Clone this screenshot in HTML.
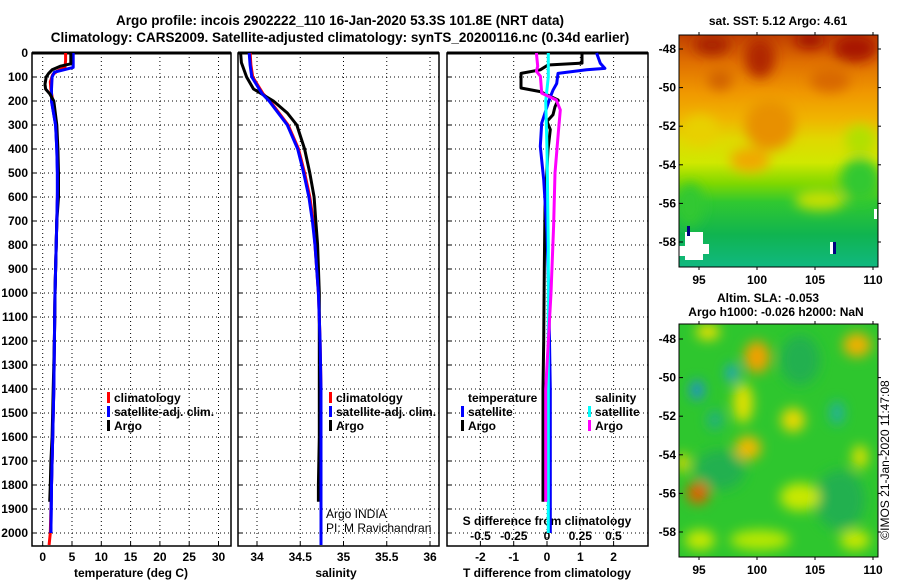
<!DOCTYPE html>
<html><head><meta charset="utf-8"><style>
body{margin:0;background:#fff;width:900px;height:580px;overflow:hidden}
svg{display:block;font-family:"Liberation Sans",Arial,sans-serif}
.b{font-weight:bold;font-size:12px}
.t{font-weight:bold;font-size:13.5px}
</style></head><body>
<svg id="c" width="900" height="580" viewBox="0 0 900 580" xmlns="http://www.w3.org/2000/svg">
<defs>
<filter id="bl" x="-50%" y="-50%" width="200%" height="200%"><feGaussianBlur stdDeviation="6"/></filter>
<linearGradient id="sstg" x1="0" y1="0" x2="0" y2="1">
<stop offset="0" stop-color="#c04000"/><stop offset="0.12" stop-color="#e07000"/>
<stop offset="0.25" stop-color="#f09800"/><stop offset="0.36" stop-color="#f0b400"/>
<stop offset="0.45" stop-color="#e0d800"/><stop offset="0.55" stop-color="#d0e800"/>
<stop offset="0.64" stop-color="#80d800"/><stop offset="0.72" stop-color="#30c830"/>
<stop offset="0.86" stop-color="#10b450"/><stop offset="1" stop-color="#10b880"/></linearGradient>
<clipPath id="cm1"><rect x="679" y="35" width="199" height="232"/></clipPath>
<clipPath id="cm2"><rect x="679" y="324" width="199" height="233"/></clipPath>
</defs>
<text class="t" x="340" y="25" text-anchor="middle">Argo profile: incois 2902222_110 16-Jan-2020 53.3S 101.8E (NRT data)</text>
<text class="t" x="340" y="42" text-anchor="middle">Climatology: CARS2009. Satellite-adjusted climatology: synTS_20200116.nc (0.34d earlier)</text>
<g id="p1"></g>
<g id="p2"></g>
<g id="p3"></g>
<g id="m1" clip-path="url(#cm1)">
<rect x="679" y="35" width="199" height="232" fill="url(#sstg)"/>
<g filter="url(#bl)">
<ellipse cx="712" cy="45" rx="18" ry="10" fill="#a82000"/>
<ellipse cx="760" cy="58" rx="15" ry="20" fill="#b02800"/>
<ellipse cx="810" cy="40" rx="15" ry="8" fill="#a01000"/>
<ellipse cx="855" cy="48" rx="22" ry="14" fill="#a81800"/>
<ellipse cx="720" cy="80" rx="12" ry="10" fill="#d06000"/>
<ellipse cx="830" cy="80" rx="20" ry="12" fill="#d86800"/>
<ellipse cx="770" cy="125" rx="25" ry="25" fill="#e89000"/>
<ellipse cx="750" cy="160" rx="20" ry="12" fill="#f0a800"/>
<ellipse cx="700" cy="130" rx="18" ry="15" fill="#e8d000"/>
<ellipse cx="690" cy="205" rx="14" ry="22" fill="#30c830"/>
<ellipse cx="860" cy="180" rx="20" ry="22" fill="#30c830"/>
<ellipse cx="820" cy="200" rx="25" ry="10" fill="#c8e000"/>
<ellipse cx="860" cy="140" rx="15" ry="15" fill="#b0e000"/>
</g>
<rect x="685" y="232" width="18" height="28" fill="#fff"/>
<rect x="679" y="246" width="8" height="10" fill="#fff"/>
<rect x="703" y="244" width="6" height="10" fill="#fff"/>
<rect x="687" y="226" width="3" height="10" fill="#000080"/>
<rect x="830" y="242" width="3" height="12" fill="#fff"/><rect x="833" y="242" width="3" height="12" fill="#000080"/>
<rect x="874" y="209" width="3" height="10" fill="#fff"/>
</g>
<g id="m2" clip-path="url(#cm2)">
<rect x="679" y="324" width="199" height="233" fill="#2ec62e"/>
<g filter="url(#bl)">
<ellipse cx="720" cy="470" rx="25" ry="20" fill="#20b050"/>
<ellipse cx="840" cy="500" rx="25" ry="30" fill="#20b050"/>
<ellipse cx="800" cy="360" rx="20" ry="25" fill="#20b050"/>
<ellipse cx="708" cy="332" rx="12" ry="8" fill="#e8e000"/>
<ellipse cx="757" cy="357" rx="13" ry="16" fill="#f0a000"/>
<ellipse cx="743" cy="403" rx="10" ry="20" fill="#e0e000"/>
<ellipse cx="748" cy="448" rx="13" ry="12" fill="#f0b800"/>
<ellipse cx="793" cy="420" rx="12" ry="12" fill="#e8d800"/>
<ellipse cx="857" cy="345" rx="14" ry="12" fill="#f0b000"/>
<ellipse cx="698" cy="493" rx="11" ry="11" fill="#e06000"/>
<ellipse cx="683" cy="463" rx="6" ry="10" fill="#e8d800"/>
<ellipse cx="860" cy="457" rx="8" ry="12" fill="#d8e000"/>
<ellipse cx="800" cy="497" rx="20" ry="14" fill="#c8e800"/>
<ellipse cx="760" cy="540" rx="30" ry="10" fill="#b8e800"/>
<ellipse cx="700" cy="540" rx="15" ry="10" fill="#c8e800"/>
<ellipse cx="855" cy="540" rx="15" ry="10" fill="#c8e800"/>
<ellipse cx="697" cy="390" rx="7" ry="10" fill="#2090d0"/>
<ellipse cx="732" cy="373" rx="6" ry="9" fill="#20a0d0"/>
<ellipse cx="837" cy="413" rx="7" ry="12" fill="#20b0a0"/>
<ellipse cx="715" cy="420" rx="8" ry="10" fill="#20b080"/>
</g>
</g>
<g id="maxes"></g>
<text class="b" x="778" y="25" text-anchor="middle">sat. SST: 5.12 Argo: 4.61</text>
<text class="b" x="768" y="302" text-anchor="middle">Altim. SLA: -0.053</text>
<text class="b" x="776" y="316" text-anchor="middle">Argo h1000: -0.026 h2000: NaN</text>
<text x="889" y="460" font-size="12" text-anchor="middle" transform="rotate(-90 889 460)">©IMOS 21-Jan-2020 11:47:08</text>
<text x="326" y="518" font-size="12">Argo INDIA</text>
<text x="326" y="532" font-size="12">PI: M Ravichandran</text>
</svg>
<script>
// ---- data ----
const depthTicks=[0,100,200,300,400,500,600,700,800,900,1000,1100,1200,1300,1400,1500,1600,1700,1800,1900,2000];
const tempTicks=[0,5,10,15,20,25,30];
const salTicks=[34,34.5,35,35.5,36];
const salTickLabels=["34","34.5","35","35.5","36"];
const tdTicks=[-2,-1,0,1,2];
const sdTicks=[-0.5,-0.25,0,0.25,0.5];
const sdTickLabels=["-0.5","-0.25","0","0.25","0.5"];
const argoDepth=[0,45,55,70,85,100,130,150,170,200,260,300,400,500,600,700,800,1000,1200,1400,1600,1700,1800,1870];
const argoTemp=[4.8,4.8,3.0,1.6,1.0,0.6,0.4,0.5,1.2,1.9,2.2,2.4,2.6,2.7,2.7,2.4,2.3,2.1,2.0,1.8,1.6,1.4,1.3,1.2];
const climDepth=[0,30,60,75,90,120,150,200,300,400,460,500,600,800,1000,1200,1400,1600,1800,2000,2050];
const climTemp=[3.9,3.9,3.8,2.5,1.7,1.3,1.4,1.7,2.3,2.5,2.6,2.6,2.5,2.3,2.1,2.0,1.9,1.7,1.5,1.3,1.1];
const satDepth=[0,60,70,80,100,150,200,300,400,500,600,700,800,1000,1200,1400,1600,1800,2000];
const satTemp=[5.2,5.2,3.6,2.0,1.6,1.5,1.5,2.2,2.4,2.5,2.5,2.4,2.3,2.1,2.0,1.9,1.7,1.5,1.4];
const argoSalDepth=[0,40,100,150,200,250,300,400,500,600,700,800,1000,1200,1400,1600,1800,1870];
const argoSal=[33.81,33.82,33.88,33.96,34.19,34.35,34.46,34.55,34.61,34.66,34.68,34.70,34.72,34.72,34.72,34.72,34.71,34.71];
const climSalDepth=[0,50,100,170,200,300,400,500,600,700,800,1000,1200,1400,1600,1800,2000,2050];
const climSal=[33.92,33.93,33.95,34.07,34.15,34.36,34.48,34.55,34.61,34.65,34.67,34.71,34.73,34.74,34.74,34.74,34.74,34.74];
const satSal=[33.91,33.92,33.94,34.06,34.14,34.35,34.47,34.54,34.60,34.64,34.67,34.71,34.73,34.74,34.74,34.74,34.74,34.74];
const tdArgoDepth=[0,42,50,70,85,146,161,196,224,257,285,319,403,639,900,1200,1400,1600,1870];
const tdArgo=[1.05,1.05,0.03,-0.2,-0.78,-0.78,-0.2,0.33,0.24,0.18,0,0.1,0.03,-0.06,-0.08,-0.1,-0.12,-0.12,-0.12];
const tdSatDepth=[0,43,64,70,85,127,155,183,224,292,389,528,750,1000,1400,1700,2000];
const tdSat=[1.49,1.6,1.74,1.19,0.33,0.29,0.18,0.1,0,-0.16,-0.2,-0.1,0,0.05,0.1,0.1,0.1];
const sdArgoDepth=[0,55,76,97,167,196,237,333,500,722,1000,1400,1700,1870];
const sdArgo=[-0.08,-0.07,-0.08,-0.05,-0.04,0.07,0.1,0.085,0.06,0.05,0.03,-0.01,-0.01,-0.01];
const sdSatDepth=[0,100,200,400,800,1200,1600,2000];
const sdSat=[0.01,0.01,-0.01,0.0,0.01,0.01,0.01,0.01];
const latTicks=[-48,-50,-52,-54,-56,-58];
const lonTicks=[95,100,105,110];

// ---- scales ----
const NS="http://www.w3.org/2000/svg";
const yD=d=>53+d*0.24;
const xT=v=>42.7+v*5.86;
const xS=v=>257+(v-34)*86.5;
const xTD=v=>547+v*33.3;
const xSD=v=>547+v*133;
function mk(parent,tag,attrs){const e=document.createElementNS(NS,tag);for(const k in attrs)e.setAttribute(k,attrs[k]);parent.appendChild(e);return e;}
function panel(g,x0,x1,vgrid,yLabels){
  const y0=53,y1=546;
  depthTicks.forEach(d=>{if(d>0){const l=mk(g,'line',{x1:x0,x2:x1,y1:yD(d),y2:yD(d),stroke:'#000','stroke-width':1,'stroke-dasharray':'1,3'});
    }
    mk(g,'line',{x1:x0,x2:x0+4,y1:yD(d),y2:yD(d),stroke:'#000'});
    if(yLabels){const t=mk(g,'text',{x:x0-4,y:yD(d)+4,'text-anchor':'end',class:'b'});t.textContent=d;
      }});
  vgrid.forEach(x=>{const l=mk(g,'line',{x1:x,x2:x,y1:y0,y2:y1,stroke:'#000','stroke-dasharray':'1,3'});
    
    mk(g,'line',{x1:x,x2:x,y1:y1,y2:y1-4,stroke:'#000'});});
  const r=mk(g,'rect',{x:x0,y:y0,width:x1-x0,height:y1-y0,fill:'none',stroke:'#000','stroke-width':1.5});
  
  mk(g,'line',{x1:x0,x2:x1,y1:y0,y2:y0,stroke:'#000','stroke-width':3});
}
function line(g,xs,ds,fx,col,name,w){
  const pts=xs.map((v,i)=>fx(v).toFixed(1)+','+yD(ds[i]).toFixed(1)).join(' ');
  const p=mk(g,'polyline',{points:pts,fill:'none',stroke:col,'stroke-width':w||3,'stroke-linejoin':'round'});
  
}
function txt(g,x,y,s,cls,anchor,name){const t=mk(g,'text',{x:x,y:y,class:cls||'b','text-anchor':anchor||'start'});t.textContent=s;
  return t;}
function legend(g,x,y,items){items.forEach((it,i)=>{mk(g,'rect',{x:x,y:y+i*14-10,width:3,height:11,fill:it[0]});
  txt(g,x+7,y+i*14,it[1],'b','start','legend-entry');});}

// panel 1
const p1=document.getElementById('p1');
panel(p1,32,231,tempTicks.map(xT),true);
tempTicks.forEach(v=>txt(p1,xT(v),561,String(v),'b','middle','temperature-tick-label'));
txt(p1,131,577,'temperature (deg C)','b','middle','temperature-axis-title');
line(p1,climTemp,climDepth,xT,'#f00','climatology-temperature-line');
line(p1,satTemp,satDepth,xT,'#00f','satellite-temperature-line');
line(p1,argoTemp,argoDepth,xT,'#000','argo-temperature-line');
line(p1,satTemp.slice(6),satDepth.slice(6),xT,'#00f','satellite-temperature-line-deep');
legend(p1,107,402,[['#f00','climatology'],['#00f','satellite-adj. clim.'],['#000','Argo']]);

// panel 2
const p2=document.getElementById('p2');
panel(p2,238,439,salTicks.map(xS),false);
salTicks.forEach((v,i)=>txt(p2,xS(v),561,salTickLabels[i],'b','middle','salinity-tick-label'));
txt(p2,336,577,'salinity','b','middle','salinity-axis-title');
line(p2,climSal,climSalDepth,xS,'#f00','climatology-salinity-line');
line(p2,argoSal,argoSalDepth,xS,'#000','argo-salinity-line');
line(p2,satSal,climSalDepth,xS,'#00f','satellite-salinity-line');
legend(p2,329,402,[['#f00','climatology'],['#00f','satellite-adj. clim.'],['#000','Argo']]);

// panel 3
const p3=document.getElementById('p3');
panel(p3,447,648,tdTicks.map(xTD),false);
tdTicks.forEach(v=>txt(p3,xTD(v),561,String(v),'b','middle','t-diff-tick-label'));
txt(p3,547,577,'T difference from climatology','b','middle','t-diff-axis-title');
sdTicks.forEach((v,i)=>txt(p3,xSD(v),540,sdTickLabels[i],'b','middle','s-diff-tick-label'));
txt(p3,547,525,'S difference from climatology','b','middle','s-diff-axis-title');
line(p3,tdArgo,tdArgoDepth,xTD,'#000','argo-t-diff-line');
line(p3,tdSat,tdSatDepth,xTD,'#00f','satellite-t-diff-line');
line(p3,sdSat,sdSatDepth,xSD,'#0ff','satellite-s-diff-line');
line(p3,sdArgo,sdArgoDepth,xSD,'#f0f','argo-s-diff-line');
txt(p3,468,402,'temperature','b','start','legend-title-temperature');
legend(p3,461,416,[['#00f','satellite'],['#000','Argo']]);
txt(p3,595,402,'salinity','b','start','legend-title-salinity');
legend(p3,588,416,[['#0ff','satellite'],['#f0f','Argo']]);

// map axes
const ma=document.getElementById('maxes');
const mLon=v=>699+(v-95)*11.6;
[[35,267,49],[324,557,339]].forEach(([t,b,l48])=>{
  mk(ma,'rect',{x:679,y:t,width:199,height:b-t,fill:'none',stroke:'#000','stroke-width':1});
  latTicks.forEach(v=>{const y=l48+(-48-v)*19.3;mk(ma,'line',{x1:679,x2:683,y1:y,y2:y,stroke:'#000'});
    mk(ma,'line',{x1:878,x2:881,y1:y,y2:y,stroke:'#000'});
    txt(ma,676,y+4,String(v),'b','end','latitude-tick-label');});
  lonTicks.forEach(v=>{const x=mLon(v);mk(ma,'line',{x1:x,x2:x,y1:t,y2:t-3,stroke:'#000'});mk(ma,'line',{x1:x,x2:x,y1:b,y2:b+3,stroke:'#000'});
    txt(ma,x,b+17,String(v),'b','middle','longitude-tick-label');});
});
</script>
</body></html>
